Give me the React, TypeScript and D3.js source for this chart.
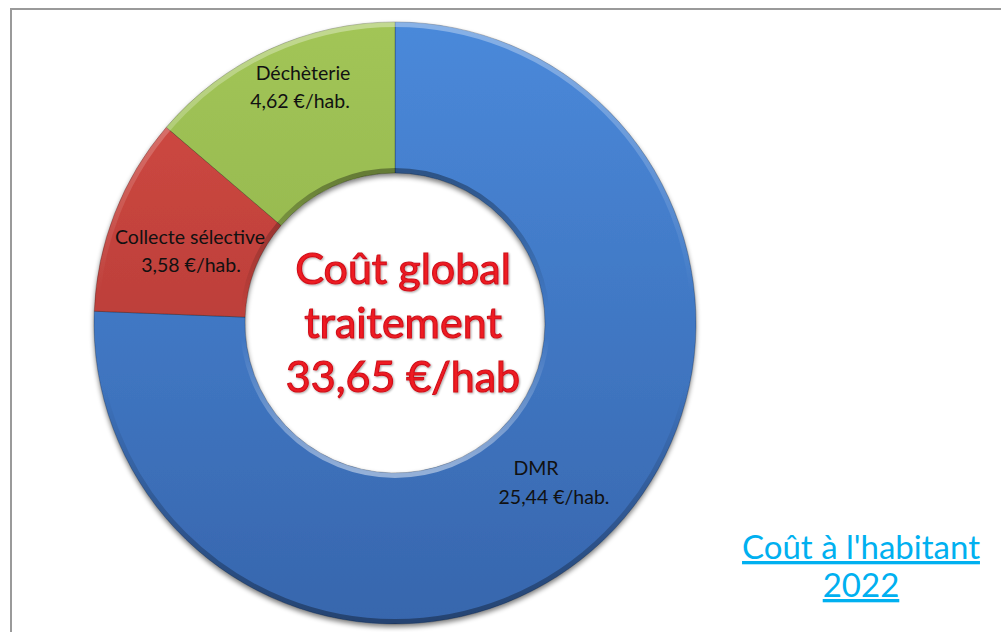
import React from "react";
import * as d3 from "d3";

const categories = ["DMR", "Collecte sélective", "Déchèterie"];
const values = [25.44, 3.58, 4.62];
const valueLabels = ["25,44 €/hab.", "3,58 €/hab.", "4,62 €/hab."];
const centerLines = ["Coût global", "traitement", "33,65 €/hab"];
const titleLines = ["Coût à l'habitant", "2022"];

const W = 1001;
const H = 632;
const cx = 395;
const cy = 323;
const rOuter = 301;
const rInner = 150;

const gradStops = [
  ["#4a89da", "#3766ad"],
  ["#d44b44", "#a5342f"],
  ["#a2c557", "#86a843"],
];

// label anchor offsets relative to center (name line, value line)
const labelPos = [
  { name: [141, 152], val: [159, 181] },
  { name: [-205, -79], val: [-204, -51] },
  { name: [-92, -243], val: [-95, -215] },
];

export default function App() {
  const pie = d3.pie<number>().sort(null).startAngle(0).endAngle(2 * Math.PI);
  const arcs = pie(values);
  const arc = d3.arc<d3.PieArcDatum<number>>().innerRadius(rInner).outerRadius(rOuter);
  const font = "Lato, 'Open Sans', sans-serif";

  return (
    <svg width={W} height={H} style={{ position: "absolute", left: 0, top: 0, display: "block" }}>
      <defs>
        {gradStops.map((g, i) => (
          <linearGradient key={i} id={`g${i}`} gradientUnits="userSpaceOnUse" x1={0} y1={-rOuter} x2={0} y2={rOuter}>
            <stop offset="0" stopColor={g[0]} />
            <stop offset="1" stopColor={g[1]} />
          </linearGradient>
        ))}
        <linearGradient id="outerRim" gradientUnits="userSpaceOnUse" x1={0} y1={-rOuter} x2={0} y2={rOuter}>
          <stop offset="0" stopColor="#ffffff" stopOpacity={0.35} />
          <stop offset="0.45" stopColor="#ffffff" stopOpacity={0} />
          <stop offset="0.6" stopColor="#000000" stopOpacity={0} />
          <stop offset="1" stopColor="#000000" stopOpacity={0.35} />
        </linearGradient>
        <linearGradient id="innerRim" gradientUnits="userSpaceOnUse" x1={0} y1={-rInner} x2={0} y2={rInner}>
          <stop offset="0" stopColor="#000000" stopOpacity={0.35} />
          <stop offset="0.45" stopColor="#000000" stopOpacity={0} />
          <stop offset="0.55" stopColor="#ffffff" stopOpacity={0} />
          <stop offset="1" stopColor="#ffffff" stopOpacity={0.45} />
        </linearGradient>
        <filter id="shadow" x="-10%" y="-10%" width="120%" height="120%">
          <feGaussianBlur in="SourceAlpha" stdDeviation="2.5" result="b" />
          <feOffset in="b" dx="0" dy="3" result="o" />
          <feComponentTransfer in="o" result="s">
            <feFuncA type="linear" slope="0.5" />
          </feComponentTransfer>
          <feMerge>
            <feMergeNode in="s" />
            <feMergeNode in="SourceGraphic" />
          </feMerge>
        </filter>
        <filter id="textShadow" x="-5%" y="-10%" width="110%" height="130%">
          <feGaussianBlur in="SourceAlpha" stdDeviation="0.8" result="b" />
          <feOffset in="b" dx="0.5" dy="1" result="o" />
          <feComponentTransfer in="o" result="s">
            <feFuncA type="linear" slope="0.35" />
          </feComponentTransfer>
          <feMerge>
            <feMergeNode in="s" />
            <feMergeNode in="SourceGraphic" />
          </feMerge>
        </filter>
      </defs>
      <rect x={0} y={0} width={W} height={H} fill="#ffffff" />
      <rect x={11} y={9} width={W + 20} height={H + 20} fill="none" stroke="#9a9a9a" strokeWidth={2} />

      <g transform={`translate(${cx},${cy})`}>
        <g filter="url(#shadow)">
          {arcs.map((a, i) => (
            <path key={i} d={arc(a) || ""} fill={`url(#g${i})`} stroke="rgba(0,0,0,0.3)" strokeWidth={0.8} />
          ))}
        </g>
        <circle r={rOuter - 2.5} fill="none" stroke="url(#outerRim)" strokeWidth={5} />
        <circle r={rInner + 2.5} fill="none" stroke="url(#innerRim)" strokeWidth={5} />
      </g>

      <g transform={`translate(${cx},${cy})`} fontFamily={font} fontSize={19.5} fill="#111" textAnchor="middle">
        {arcs.map((a, i) => (
          <g key={i}>
            <text x={labelPos[i].name[0]} y={labelPos[i].name[1]}>{categories[i]}</text>
            <text x={labelPos[i].val[0]} y={labelPos[i].val[1]}>{valueLabels[i]}</text>
          </g>
        ))}
      </g>

      <g fontFamily={font} fontSize={43} fill="#ee1a22" textAnchor="middle" filter="url(#textShadow)">
        {centerLines.map((t, i) => (
          <text key={i} x={cx + 8} y={284 + i * 54} stroke="#d0111a" strokeWidth={1.1}>{t}</text>
        ))}
      </g>

      <g fontFamily={font} fontSize={33} fill="#00b0f0" textAnchor="middle">
        {titleLines.map((t, i) => (
          <text key={i} x={861} y={559 + i * 38} textDecoration="underline">{t}</text>
        ))}
      </g>
    </svg>
  );
}
